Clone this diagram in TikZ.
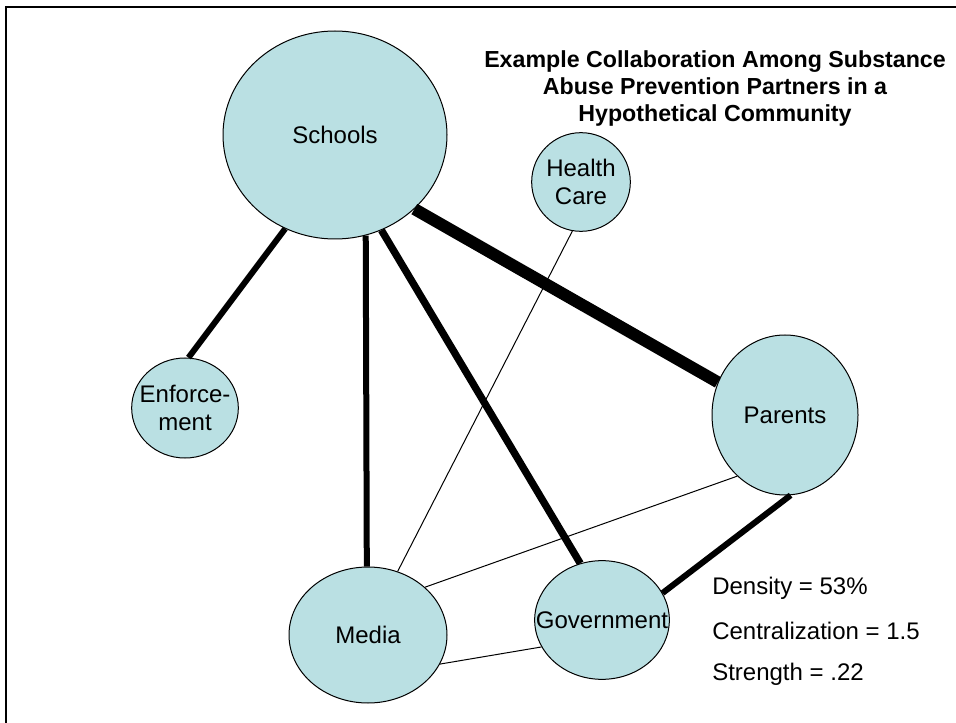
\documentclass[tikz,border=0pt]{standalone}
\usepackage{fontspec}
\setmainfont{Liberation Sans}
\usetikzlibrary{shapes.geometric}
\definecolor{actorfill}{RGB}{186,224,227}
\begin{document}
\begin{tikzpicture}[x=0.75pt, y=-0.75pt,
  actor/.style={ellipse, draw, line width=0.75pt, fill=actorfill, inner sep=0pt,
    label={[align=center, font=\fontsize{18}{20.5}\selectfont]center:#1}},
  weak/.style={line width=0.75pt},
  strong/.style={line width=4.5pt},
  stronger/.style={line width=5.5pt},
  strongest/.style={line width=9pt},
  stat/.style={anchor=west, inner sep=0pt, font=\fontsize{18}{21}\selectfont}]
\useasboundingbox (0,0) rectangle (956,723);
\draw[line width=1.5pt] (962,730) |- (6,7) -- (6,730);

% actors
\node[actor=Schools, minimum width=168pt, minimum height=156pt] (schools) at (335,135) {};
\node[actor={Health\\Care}, minimum width=74pt, minimum height=74pt] (health) at (581,182) {};
\node[actor={Enforce-\\ment}, minimum width=80pt, minimum height=75pt] (enforce) at (185,408) {};
\node[actor=Parents, minimum width=109.5pt, minimum height=120pt] (parents) at (785,415) {};
\node[actor=Government, minimum width=101pt, minimum height=89pt] (gov) at (602,620) {};
\node[actor=Media, minimum width=118.5pt, minimum height=102pt] (media) at (368,635) {};

% ties
\draw[strong] (schools.-118) -- (enforce.86);
\draw[strong] (schools.-73) -- (media.91);
\draw[stronger] (schools.-64) -- (gov.111);
\draw[strongest] (schools.-43) -- (parents.154);
\draw[strong] (parents.-86) -- (gov.24);
\draw[weak] (health.-100) -- (media.65);
\draw[weak] (parents.-128) -- (media.40);
\draw[weak] (media.-22) -- (gov.204);

% title and measures
\node[align=center, font=\fontsize{17.4}{20.25}\selectfont\bfseries] (title) at (715,89)
  {Example Collaboration Among Substance\\Abuse Prevention Partners in a\\Hypothetical Community};
\node[stat] (density) at (712,588) {Density = 53\%};
\node[stat] (central) at (712,631) {Centralization = 1.5};
\node[stat] (strength) at (712,674) {Strength = .22};
\end{tikzpicture}
\end{document}
